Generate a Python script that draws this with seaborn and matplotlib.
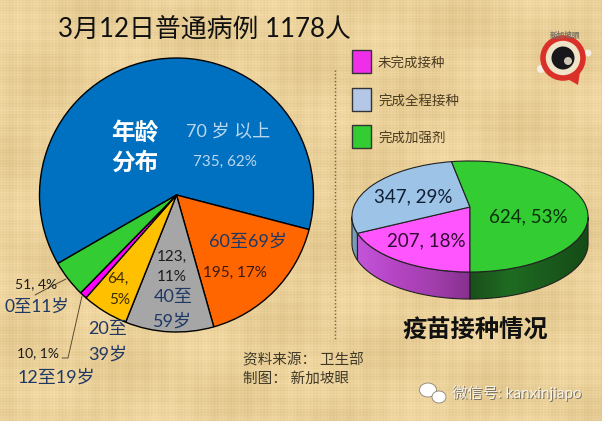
""" 3月12日 普通病例 pies """
import matplotlib.pyplot as plt
import numpy as np
import seaborn as sb
from matplotlib.colors import LinearSegmentedColormap
from matplotlib.patches import Circle, Ellipse, Polygon, Rectangle
from matplotlib.transforms import Transform

# age pie
age_groups = ['70 岁 以上', '60至69岁', '40至59岁', '20至39岁', '12至19岁', '0至11岁']
age_counts = [735, 195, 123, 64, 10, 51]
age_pcts = [62, 17, 11, 5, 1, 4]
age_colors = ['#0070C0', '#FF6600', '#A6A6A6', '#FFC000', '#FF00FF', '#33CC33']

# vaccine pie
vax_groups = ['未完成接种', '完成全程接种', '完成加强剂']
vax_counts = [207, 347, 624]
vax_pcts = [18, 29, 53]
vax_colors = ['#FF55FF', '#9DC3E6', '#33CC33']
legend_colors = ['#EE2EE8', '#B4C7E7', '#33CC33']

W, H = 602, 421
NAVY = '#1F3864'
INK = '#1c1c1c'
CJK = ['Lato', 'Noto Sans CJK SC', 'DejaVu Sans']

sb.set_theme(style='white')
plt.rcParams['font.family'] = CJK

fig = plt.figure(figsize=(W / 100, H / 100), dpi=100)


def pixel_axes(zorder):
    ax = fig.add_axes([0, 0, 1, 1], zorder=zorder)
    ax.patch.set_alpha(0)
    return ax


def finish_axes(ax):
    ax.set_xlim(0, W)
    ax.set_ylim(H, 0)
    ax.set_aspect('auto')
    ax.axis('off')


back = pixel_axes(0)
front = pixel_axes(3)
finish_axes(front)


def label(x, y, s, size=10.5, color=INK, **kw):
    kw.setdefault('ha', 'center')
    return front.text(x, y, s, fontsize=size, color=color, va='center', **kw)


# woven paper background
yy, xx = np.mgrid[0:H, 0:W]
weave = (2.5 * np.sin(xx * 1.9) + 2.5 * np.sin(yy * 2.3) + 2.0 * np.sin(xx * 0.37 + 1.0)
         + 2.0 * np.sin(yy * 0.53) + 3.0 * np.sin(xx * 0.05 + yy * 0.03) + 3.0 * np.sin(yy * 0.071 - xx * 0.02))
paper = np.dstack([234 + weave, 208 + weave, 153 + 1.3 * weave]).clip(0, 255).astype(np.uint8)
back.imshow(paper, extent=(0, W, H, 0), aspect='auto', interpolation='bilinear')

# age pie
ax = fig.add_axes([39 / W, 1 - 332 / H, 275 / W, 274 / H], zorder=2)
ax.patch.set_alpha(0)
ax.pie(age_counts, colors=age_colors, startangle=210, counterclock=False, radius=1,
       wedgeprops={'edgecolor': 'black', 'linewidth': 1.0, 'clip_on': False})
ax.set_xlim(-1, 1)
ax.set_ylim(-1, 1)

# vaccine pie seen in perspective: unit circle to pixels
CX, CY = 470, 207
PERSP, SX, SY = 0.171, 116.3, 53.9
DEPTH = 27


class Tilted(Transform):
    input_dims = output_dims = 2

    def transform_non_affine(self, pts):
        pts = np.asarray(pts, dtype=float)
        d = 1 + PERSP * pts[:, 1]
        return np.c_[CX + SX * pts[:, 0] / d, CY - SY * pts[:, 1] / d]


tilted = Tilted()
ax = pixel_axes(2)
wedges, _ = ax.pie(vax_counts, colors=vax_colors, startangle=270, counterclock=False, radius=1,
                   wedgeprops={'edgecolor': '#222222', 'linewidth': 0.8, 'clip_on': False})
for w in wedges:
    w.set_transform(tilted + ax.transData)
finish_axes(ax)

# rim of the vaccine pie, built from the same slice angles
edges = 270 - np.cumsum([0] + vax_counts) / sum(vax_counts) * 360
side_colors = [
    ['#C455DA', '#B545C4', '#A33FAE', '#87308F'],
    ['#7FA3BF', '#6F93AF'],
    ['#1A4F1A', '#1F6B22', '#1A5A1C', '#154B16'],
]
for i in range(len(vax_counts)):
    a, b = sorted([edges[i], edges[i + 1]])
    theta = np.radians(np.linspace(a, b, 300))
    theta = theta[np.sin(theta) <= -PERSP]
    if len(theta) < 2:
        continue
    edge = tilted.transform_non_affine(np.c_[np.cos(theta), np.sin(theta)])
    px, py = edge[:, 0], edge[:, 1]
    rim = np.r_[edge, np.c_[px, py + DEPTH][::-1]]
    poly = Polygon(rim, closed=True, facecolor='none', edgecolor='none', transform=back.transData)
    back.add_patch(poly)
    cmap = LinearSegmentedColormap.from_list('rim', side_colors[i])
    grad = back.imshow(np.linspace(0, 1, 256)[None, :], cmap=cmap, aspect='auto',
                       extent=(px.min(), px.max(), py.max() + DEPTH, py.min()), zorder=1)
    grad.set_clip_path(poly)
    back.add_patch(Polygon(rim, closed=True, facecolor='none', edgecolor='#222222', linewidth=0.8, zorder=2))
finish_axes(back)

# title, headings
label(204, 29, '3月12日普通病例 1178人', size=18.6, color='#111111')
label(475, 330, '疫苗接种情况', size=17.5, color='#111111', weight='bold')
label(135, 132, '年龄', size=17, color='white', weight='bold')
label(135, 162, '分布', size=17, color='white', weight='bold')

# age labels
label(228, 131, age_groups[0], size=13, color='#BBD7EE')
label(225, 162, f'{age_counts[0]}, {age_pcts[0]}%', size=11, color='#BBD7EE')
label(248, 241, '60至69岁', size=13, color=NAVY)
label(235, 273, f'{age_counts[1]}, {age_pcts[1]}%', size=11, color='#3a1a10')
label(172, 257, f'{age_counts[2]},', size=11)
label(172, 277, f'{age_pcts[2]}%', size=11)
label(173, 297, '40至', size=13, color=NAVY)
label(172, 321, '59岁', size=13, color=NAVY)
label(118, 279, f'{age_counts[3]},', size=11, color='#3a2a00')
label(120, 300, f'{age_pcts[3]}%', size=11, color='#3a2a00')
label(108, 329, '20至', size=13, color=NAVY)
label(108, 354, '39岁', size=13, color=NAVY)
label(36, 284, f'{age_counts[5]}, {age_pcts[5]}%', size=10)
label(37, 307, age_groups[5], size=12.5, color=NAVY)
label(38, 353, f'{age_counts[4]}, {age_pcts[4]}%', size=10)
label(56, 377, age_groups[4], size=13, color=NAVY)

# leaders
front.plot([66, 50, 35], [279, 287, 295], color='#5a4a30', linewidth=0.7)
front.plot([82, 68, 62], [296, 358, 358], color='#5a4a30', linewidth=0.7)

# vaccine labels
label(413, 197, f'{vax_counts[1]}, {vax_pcts[1]}%', size=13.5, color='#0f1f35')
label(528, 217, f'{vax_counts[2]}, {vax_pcts[2]}%', size=13.5, color='#0a300a')
label(426, 241, f'{vax_counts[0]}, {vax_pcts[0]}%', size=13.5, color='#300a30')

# legend
for top, name, col in zip([50, 88, 125], vax_groups, legend_colors):
    front.add_patch(Rectangle((352, top), 19, 23, facecolor=col, edgecolor='#333333', linewidth=1))
    label(378, top + 12, name, size=9.7, color='#4a3a20', ha='left')

# divider
front.plot([335, 335], [70, 340], color='#6a6055', linewidth=1, linestyle=(0, (1, 1.5)))

# source
label(243, 360, '资料来源： 卫生部', size=10.5, color='#3f3a28', ha='left')
label(243, 379, '制图： 新加坡眼', size=10.5, color='#3f3a28', ha='left')

# logo
front.add_patch(Circle((541, 69), 4, facecolor='#f3eee0', edgecolor='none'))
front.add_patch(Circle((588, 53), 3.5, facecolor='#f3eee0', edgecolor='none'))
front.add_patch(Polygon([(566, 78), (580, 72), (578, 85)], facecolor='#D9302A', edgecolor='none'))
front.add_patch(Circle((563, 58), 20, facecolor='#F0E4C8', edgecolor='#D9302A', linewidth=4))
front.add_patch(Circle((563, 58), 11.5, facecolor='#17171c', edgecolor='none'))
front.add_patch(Circle((568, 61), 4, facecolor='#cfc7b5', edgecolor='none'))
label(565, 35, '新加坡眼', size=5.5, color='#777060', weight='bold')

# watermark
for cx, cy, w, h in [(428, 390, 17, 14), (439, 397, 14, 12)]:
    front.add_patch(Ellipse((cx, cy), w, h, facecolor='white', edgecolor='#8a8070', linewidth=0.6))
label(453, 394, '微信号: kanxinjiapo', size=11, color='#7d735f', ha='left')
label(452, 393, '微信号: kanxinjiapo', size=11, color='#f7f3e8', ha='left')

fig.savefig('out.png', dpi=100)
plt.close()
